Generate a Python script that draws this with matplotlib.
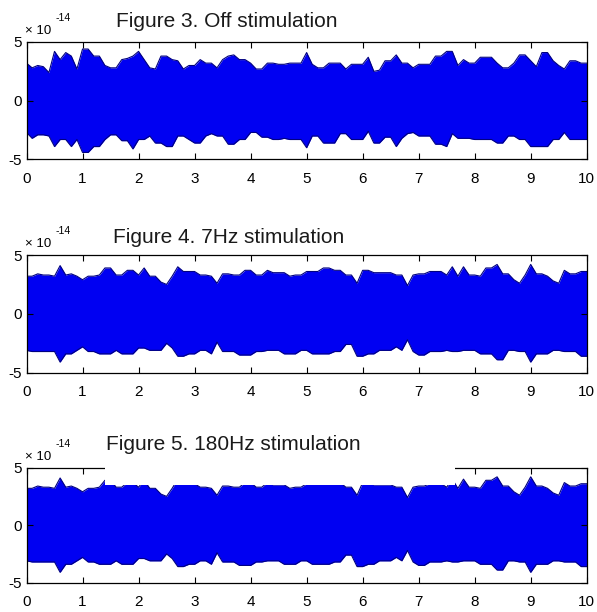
"""Three stimulation recordings drawn as filled signal envelopes."""

import matplotlib
matplotlib.use("Agg")
import matplotlib.pyplot as plt
import numpy as np
from matplotlib.patches import Rectangle

# time axis (s), one envelope reading every 0.1 s
time_s = np.round(np.arange(0, 10.01, 0.1), 1)

# envelopes in units of 1e-14
off_upper = [3.2, 2.8, 3.0, 2.9, 2.4, 4.2, 3.5, 4.1, 3.8, 2.7,
             4.4, 4.4, 3.8, 3.8, 3.0, 2.8, 2.8, 3.5, 3.6, 3.8,
             4.2, 3.5, 2.8, 2.7, 3.8, 3.8, 3.5, 3.4, 2.7, 3.0,
             3.0, 3.5, 3.2, 3.2, 2.8, 3.5, 3.8, 3.9, 3.5, 3.5,
             3.2, 2.7, 2.7, 3.2, 3.2, 3.1, 3.1, 3.2, 3.2, 3.2,
             4.1, 3.1, 2.8, 2.8, 3.2, 3.2, 3.2, 2.7, 3.1, 3.1,
             3.1, 3.7, 2.5, 2.6, 3.4, 3.4, 3.9, 3.2, 3.2, 2.8,
             3.1, 3.1, 3.1, 3.8, 3.8, 4.2, 4.2, 3.0, 3.5, 3.2,
             3.2, 3.7, 3.7, 3.7, 3.2, 2.8, 2.8, 3.2, 3.9, 3.9,
             3.4, 2.9, 4.1, 4.1, 3.4, 3.0, 2.7, 3.4, 3.4, 3.2,
             3.2]
off_lower = [-2.7, -3.2, -2.9, -2.9, -3.0, -3.9, -3.3, -3.3, -3.9, -3.3,
             -4.4, -4.4, -3.9, -3.9, -3.3, -2.9, -2.9, -3.4, -3.4, -4.1,
             -3.3, -3.3, -3.0, -3.6, -3.6, -3.9, -3.9, -3.0, -3.0, -3.3,
             -3.6, -3.6, -3.0, -2.8, -3.0, -3.0, -3.7, -3.7, -3.3, -3.3,
             -2.7, -2.7, -3.1, -3.1, -3.3, -3.3, -3.2, -3.3, -3.3, -3.3,
             -4.0, -3.0, -3.0, -3.6, -3.6, -3.6, -2.8, -2.8, -3.3, -3.3,
             -3.3, -2.6, -3.6, -3.6, -3.1, -3.1, -3.9, -3.2, -2.8, -2.7,
             -3.0, -3.0, -3.0, -3.7, -3.7, -3.9, -2.8, -3.2, -3.2, -3.2,
             -3.3, -3.3, -3.3, -3.3, -3.6, -3.6, -3.0, -3.0, -3.3, -3.3,
             -3.9, -3.9, -3.9, -3.9, -3.3, -3.3, -2.7, -3.3, -3.3, -3.3,
             -3.3]
hz7_upper = [3.2, 3.2, 3.4, 3.3, 3.3, 3.2, 4.1, 3.3, 3.4, 3.2,
             2.9, 3.2, 3.2, 3.3, 3.9, 3.9, 3.3, 3.3, 3.7, 3.7,
             3.3, 3.9, 3.2, 3.2, 2.7, 2.5, 3.2, 4.0, 3.6, 3.6,
             3.6, 3.3, 3.3, 3.2, 2.6, 3.4, 3.4, 3.3, 3.3, 3.7,
             3.7, 3.3, 3.3, 3.7, 3.5, 3.5, 3.5, 3.2, 3.3, 3.3,
             3.6, 3.6, 3.6, 3.9, 3.9, 3.7, 3.7, 3.3, 3.3, 2.6,
             3.7, 3.7, 3.5, 3.5, 3.5, 3.5, 3.3, 3.3, 2.4, 3.3,
             3.4, 3.4, 3.6, 3.6, 3.6, 3.3, 4.0, 3.2, 4.0, 3.3,
             3.3, 3.2, 3.9, 3.9, 4.2, 3.4, 3.4, 2.9, 2.6, 3.3,
             4.2, 3.4, 3.4, 3.2, 2.8, 2.6, 3.7, 3.4, 3.4, 3.6,
             3.6]
hz7_lower = [-3.1, -3.2, -3.2, -3.2, -3.2, -3.2, -4.1, -3.4, -3.4, -3.1,
             -2.8, -3.2, -3.2, -3.4, -3.4, -3.4, -3.1, -3.4, -3.4, -3.4,
             -2.9, -2.9, -3.1, -3.1, -3.1, -2.5, -2.9, -3.6, -3.6, -3.4,
             -3.4, -3.1, -3.1, -3.4, -2.4, -3.2, -3.2, -3.2, -3.5, -3.5,
             -3.5, -3.2, -3.2, -3.1, -3.1, -3.1, -3.4, -3.4, -3.4, -3.1,
             -3.1, -3.4, -3.4, -3.4, -3.4, -3.2, -3.2, -2.6, -2.6, -3.6,
             -3.6, -3.4, -3.4, -3.1, -3.1, -3.1, -2.8, -3.1, -2.2, -3.2,
             -3.5, -3.5, -3.2, -3.2, -3.2, -3.1, -3.2, -3.2, -3.1, -3.1,
             -3.1, -3.4, -3.4, -3.4, -3.9, -3.9, -3.1, -3.1, -3.2, -3.2,
             -4.1, -3.4, -3.4, -3.4, -3.1, -3.1, -3.2, -3.2, -3.2, -3.6,
             -3.6]
# the 180 Hz panel shows the same trace as the 7 Hz one
hz180_upper = list(hz7_upper)
hz180_lower = list(hz7_lower)

panels = [
    ("Figure 3. Off stimulation", off_upper, off_lower, 116, 27),
    ("Figure 4. 7Hz stimulation", hz7_upper, hz7_lower, 113, 243),
    ("Figure 5. 180Hz stimulation", hz180_upper, hz180_lower, 106, 450),
]
axes_rects = [
    (0.0444, 0.7394, 0.9384, 0.1920),
    (0.0444, 0.3910, 0.9384, 0.1923),
    (0.0444, 0.0479, 0.9384, 0.1880),
]

plt.rcParams.update({
    "font.family": ["Liberation Sans", "DejaVu Sans"],
    "axes.unicode_minus": False,
    "axes.linewidth": 0.9,
    "xtick.direction": "in",
    "ytick.direction": "in",
    "xtick.top": True,
    "ytick.right": True,
})

W, H = 597, 612
fig = plt.figure(figsize=(W / 100, H / 100), dpi=100, facecolor="white")

for i, ((title, upper, lower, tx, ty), rect) in enumerate(zip(panels, axes_rects)):
    ax = fig.add_axes(rect)
    ax.fill_between(time_s, lower, upper, color="#0000f2", linewidth=0)
    ax.plot(time_s, upper, color="#000080", linewidth=0.8)
    ax.plot(time_s, lower, color="#000080", linewidth=0.8)
    ax.set_xlim(0, 10)
    ax.set_ylim(-5, 5)
    ax.set_xticks(range(0, 11))
    ax.set_yticks([-5, 0, 5])
    ax.tick_params(axis="x", labelsize=11, pad=9, length=4, width=0.8)
    ax.tick_params(axis="y", labelsize=11, pad=3, length=4, width=0.8)

    # exponent label, drawn the way the original places it
    ax.text(-0.002, 1.04, "\u00d7 10", transform=ax.transAxes, fontsize=9.5,
            ha="left", va="bottom")
    ax.text(0.052, 1.16, "-14", transform=ax.transAxes, fontsize=7.5,
            ha="left", va="bottom")

    fig.text(tx / W, 1 - ty / H, title, fontsize=15, ha="left",
             va="baseline", color="#1a1a1a")

    if i == 2:
        # pasted white strip in the source image hides part of the frame
        ax.add_patch(Rectangle((1.41, 3.5), 7.64 - 1.41, 2.0, facecolor="white",
                               edgecolor="none", zorder=3, clip_on=False))

fig.savefig("out.png", dpi=100, facecolor="white")
plt.close(fig)
